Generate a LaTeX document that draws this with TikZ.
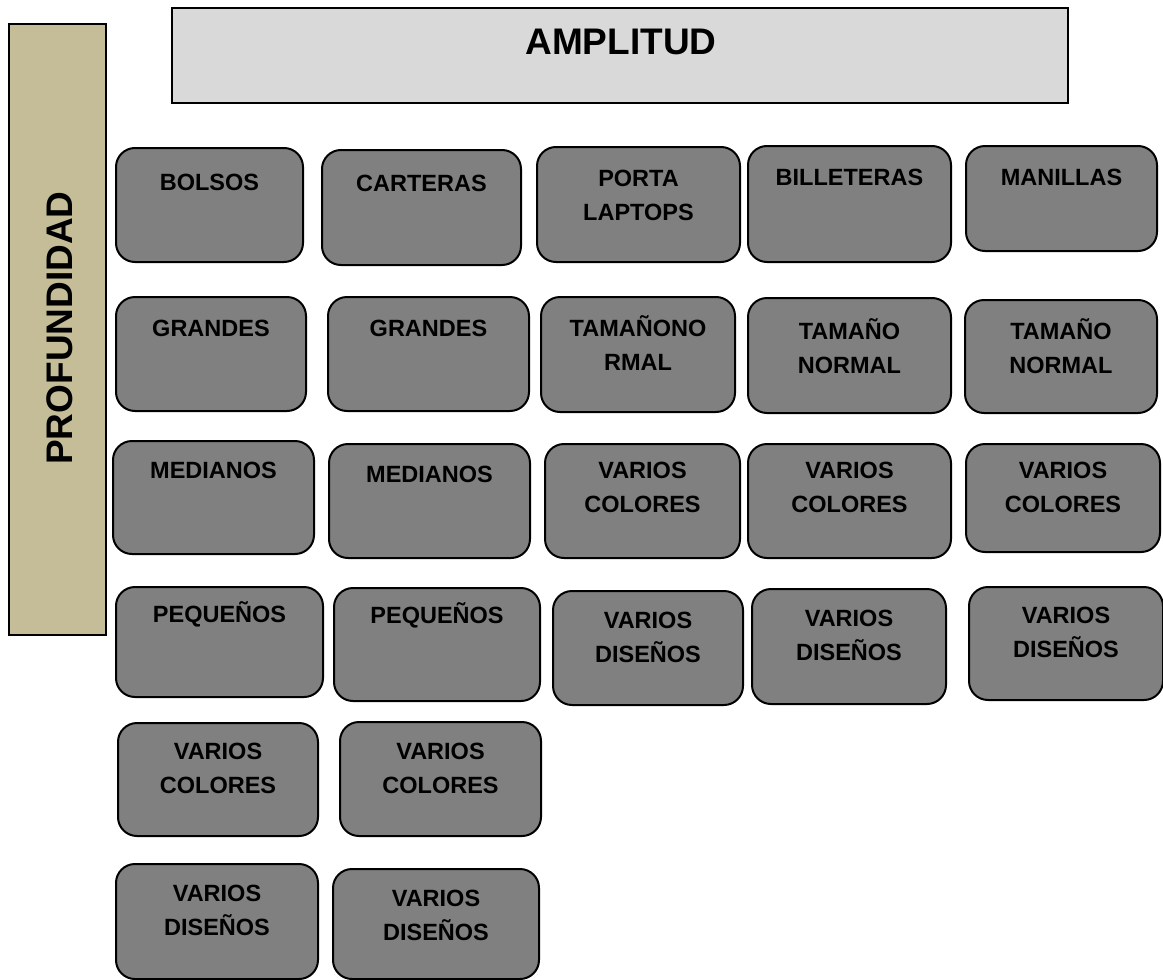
\documentclass[tikz,border=0pt]{standalone}
\usepackage{fontspec}
\setmainfont{Liberation Sans}
\definecolor{cellgray}{HTML}{808080}
\definecolor{ampgray}{HTML}{D9D9D9}
\definecolor{proftan}{HTML}{C4BD97}
\tikzset{
  cellbox/.style={draw=black, line width=2pt, fill=cellgray, rounded corners=19pt, inner sep=0pt, outer sep=0pt},
  lbl/.style={font=\fontsize{23.5}{34}\selectfont\bfseries, align=center, inner sep=0pt, anchor=center},
  headbox/.style={draw=black, line width=2pt, inner sep=0pt, outer sep=0pt},
}
\newcommand\cell[7]{%
  \node[cellbox, minimum width={#4-#2}, minimum height={#5-#3}] (#1) at ({(#2+#4)/2},{(#3+#5)/2}) {};
  \node[lbl] (#1t) at ({(#2+#4)/2},#6) {#7};
}
\begin{document}
\begin{tikzpicture}[x=1pt,y=-1pt]
\useasboundingbox (0,0) rectangle (1163,980);
% header boxes
\node[headbox, fill=ampgray, minimum width=896, minimum height=95] (amp) at (620,55.5) {};
\node[font=\fontsize{37}{40}\selectfont\bfseries, inner sep=0pt] (ampt) at (621,42) {AMPLITUD};
\node[headbox, fill=proftan, minimum width=97, minimum height=611] (prof) at (57.5,329.5) {};
\node[font=\fontsize{37}{40}\selectfont\bfseries, inner sep=0pt, rotate=90] (proft) at (60,328) {PROFUNDIDAD};
% row 1
\cell{a1}{116}{148}{303}{262}{182}{BOLSOS}
\cell{b1}{322}{150}{521}{265}{183}{CARTERAS}
\cell{c1}{537}{147}{740}{262}{195.5}{PORTA\\LAPTOPS}
\cell{d1}{748}{146}{951}{262}{177}{BILLETERAS}
\cell{e1}{966}{146}{1157}{251}{177}{MANILLAS}
% row 2
\cell{a2}{116}{297}{306}{411}{328}{GRANDES}
\cell{b2}{328}{297}{529}{411}{328}{GRANDES}
\cell{c2}{541}{297}{735}{412}{343.5}{TAMAÑONO\\RMAL}
\cell{d2}{748}{298}{951}{413}{346}{TAMAÑO\\NORMAL}
\cell{e2}{965}{300}{1157}{413}{346.5}{TAMAÑO\\NORMAL}
% row 3
\cell{a3}{113}{441}{314}{554}{470}{MEDIANOS}
\cell{b3}{329}{444}{530}{558}{474}{MEDIANOS}
\cell{c3}{545}{444}{740}{558}{487.5}{VARIOS\\COLORES}
\cell{d3}{748}{444}{951}{558}{487.5}{VARIOS\\COLORES}
\cell{e3}{966}{444}{1160}{552}{487.5}{VARIOS\\COLORES}
% row 4
\cell{a4}{116}{587}{323}{697}{614}{PEQUEÑOS}
\cell{b4}{334}{588}{540}{701}{615}{PEQUEÑOS}
\cell{c4}{553}{591}{743}{705}{637}{VARIOS\\DISEÑOS}
\cell{d4}{752}{589}{946}{704}{635}{VARIOS\\DISEÑOS}
\cell{e4}{969}{587}{1163}{700}{632}{VARIOS\\DISEÑOS}
% row 5
\cell{a5}{118}{723}{318}{836}{768}{VARIOS\\COLORES}
\cell{b5}{340}{722}{541}{836}{768}{VARIOS\\COLORES}
% row 6
\cell{a6}{116}{864}{318}{979}{910}{VARIOS\\DISEÑOS}
\cell{b6}{333}{869}{539}{979}{915}{VARIOS\\DISEÑOS}
\end{tikzpicture}
\end{document}
